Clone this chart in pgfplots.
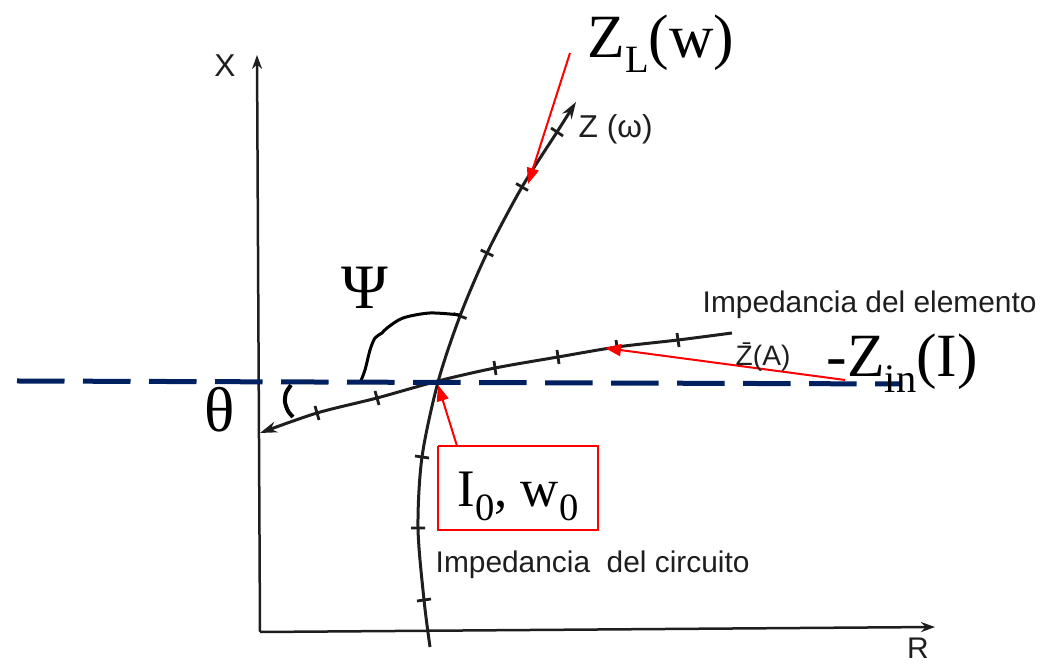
\documentclass[border=0pt]{standalone}
\usepackage{pgfplots}
\pgfplotsset{compat=1.18}
\usetikzlibrary{arrows.meta}
\usepackage{fontspec}
\setmainfont{Liberation Serif}
\newfontfamily\scanfont{Liberation Sans}
\definecolor{navy}{RGB}{0,32,96}
\definecolor{ink}{RGB}{30,30,30}

\begin{document}
\begin{tikzpicture}
\begin{axis}[
  at={(0,0)}, anchor=south west,
  scale only axis, width=10.43cm, height=6.65cm,
  xmin=0, xmax=1043, ymin=0, ymax=665, y dir=reverse,
  hide axis, clip=false,
  unbounded coords=jump,
]
% R-X impedance plane
\addplot[ink, line width=0.25mm, -{Stealth[length=1.4mm,width=1mm]}] coordinates {(260,632) (257,55)};
\addplot[ink, line width=0.25mm, -{Stealth[length=1.4mm,width=1mm]}] coordinates {(260,632) (935,627)};

% circuit impedance Z(omega)
\addplot[ink, line width=0.3mm, smooth, -{Stealth[length=1.7mm,width=1.1mm]}] coordinates {
  (430,647) (424,600) (418,528) (422,457) (438,382) (460,316) (487,253) (522,187) (557,132) (576,102)};
% frequency ticks along Z(omega)
\addplot[ink, line width=0.28mm] coordinates {
  (417,601) (431,599) (nan,nan)
  (411,528) (425,528) (nan,nan)
  (415,456) (429,458) (nan,nan)
  (453.5,313.5) (466.5,318.5) (nan,nan)
  (480.7,250) (493.3,256) (nan,nan)
  (516,183.5) (528,190.5) (nan,nan)
  (551,128) (563,136)};

% element impedance Z(A)
\addplot[ink, line width=0.3mm, smooth, -{Stealth[length=1.7mm,width=1.1mm]}] coordinates {
  (732,333) (678,340) (617,347) (558,357) (495,368) (438,381) (377,398) (317,413) (260,433)};
% amplitude ticks along Z(A)
\addplot[ink, line width=0.28mm] coordinates {
  (315,406) (319,420) (nan,nan)
  (375,391) (379,405) (nan,nan)
  (494,361) (496,375) (nan,nan)
  (557,350) (559,364) (nan,nan)
  (616,340) (618,354) (nan,nan)
  (677,333) (679,347)};

% angle marks
\addplot[black, line width=0.3mm, smooth] coordinates {
  (460,315) (430,313) (403,318) (387,328) (382,333) (375,338) (370,350) (365,370) (360,383)};
\addplot[black, line width=0.4mm, smooth] coordinates {(291,385) (286,393) (285,402) (288,411) (293,417)};

% dashed reference direction
\addplot[navy, line width=0.5mm, dash pattern=on 4.75mm off 1.85mm] coordinates {(17,381) (902,384)};

% red annotations
\addplot[red, line width=0.2mm, -{Triangle[length=1.6mm,width=1.2mm]}] coordinates {(570,53) (528,184)};
\addplot[red, line width=0.2mm, -{Triangle[length=1.6mm,width=1.2mm]}] coordinates {(845,380) (605,348)};
\addplot[red, line width=0.2mm, -{Triangle[length=1.6mm,width=1.2mm]}] coordinates {(457,446) (438,385)};
\addplot[red, line width=0.2mm] coordinates {(438,446) (598,446) (598,530) (438,530) (438,446)};

% labels
\node[anchor=base west, inner sep=0] at (axis cs:587,58)
  {\fontsize{17.5}{18}\selectfont Z\raisebox{-0.24em}{\fontsize{11}{11}\selectfont L}(w)};
\node[anchor=base west, inner sep=0] at (axis cs:826,377)
  {\fontsize{17.5}{18}\selectfont -Z\raisebox{-0.26em}{\fontsize{11.5}{11.5}\selectfont in}(I)};
\node[anchor=base, inner sep=0] at (axis cs:518,507)
  {\fontsize{15}{15}\selectfont I\raisebox{-0.25em}{\fontsize{11}{11}\selectfont 0}, w\raisebox{-0.25em}{\fontsize{11}{11}\selectfont 0}};
\node[inner sep=0] at (axis cs:365,288) {\fontsize{18}{18}\selectfont Ψ};
\node[inner sep=0] at (axis cs:220,410) {\fontsize{18}{18}\selectfont θ};

\node[anchor=base west, inner sep=0, text=ink] at (axis cs:702,313)
  {\scanfont\fontsize{8.5}{9}\selectfont Impedancia del elemento};
\node[anchor=base west, inner sep=0, text=ink] at (axis cs:435,572)
  {\scanfont\fontsize{8.5}{9}\selectfont Impedancia\ \ del circuito};
\node[anchor=base west, inner sep=0, text=ink] at (axis cs:578,138)
  {\scanfont\fontsize{9}{9}\selectfont Z (ω)};
\node[anchor=base west, inner sep=0, text=ink] at (axis cs:735,366)
  {\scanfont\fontsize{8}{8}\selectfont \=Z(A)};
\node[inner sep=0, text=ink] at (axis cs:225,66) {\scanfont\fontsize{9}{9}\selectfont X};
\node[inner sep=0, text=ink] at (axis cs:918,648) {\scanfont\fontsize{8.5}{9}\selectfont R};
\end{axis}
\pgfresetboundingbox
\path[use as bounding box] (0,0) rectangle (10.43cm,6.65cm);
\end{tikzpicture}
\end{document}
